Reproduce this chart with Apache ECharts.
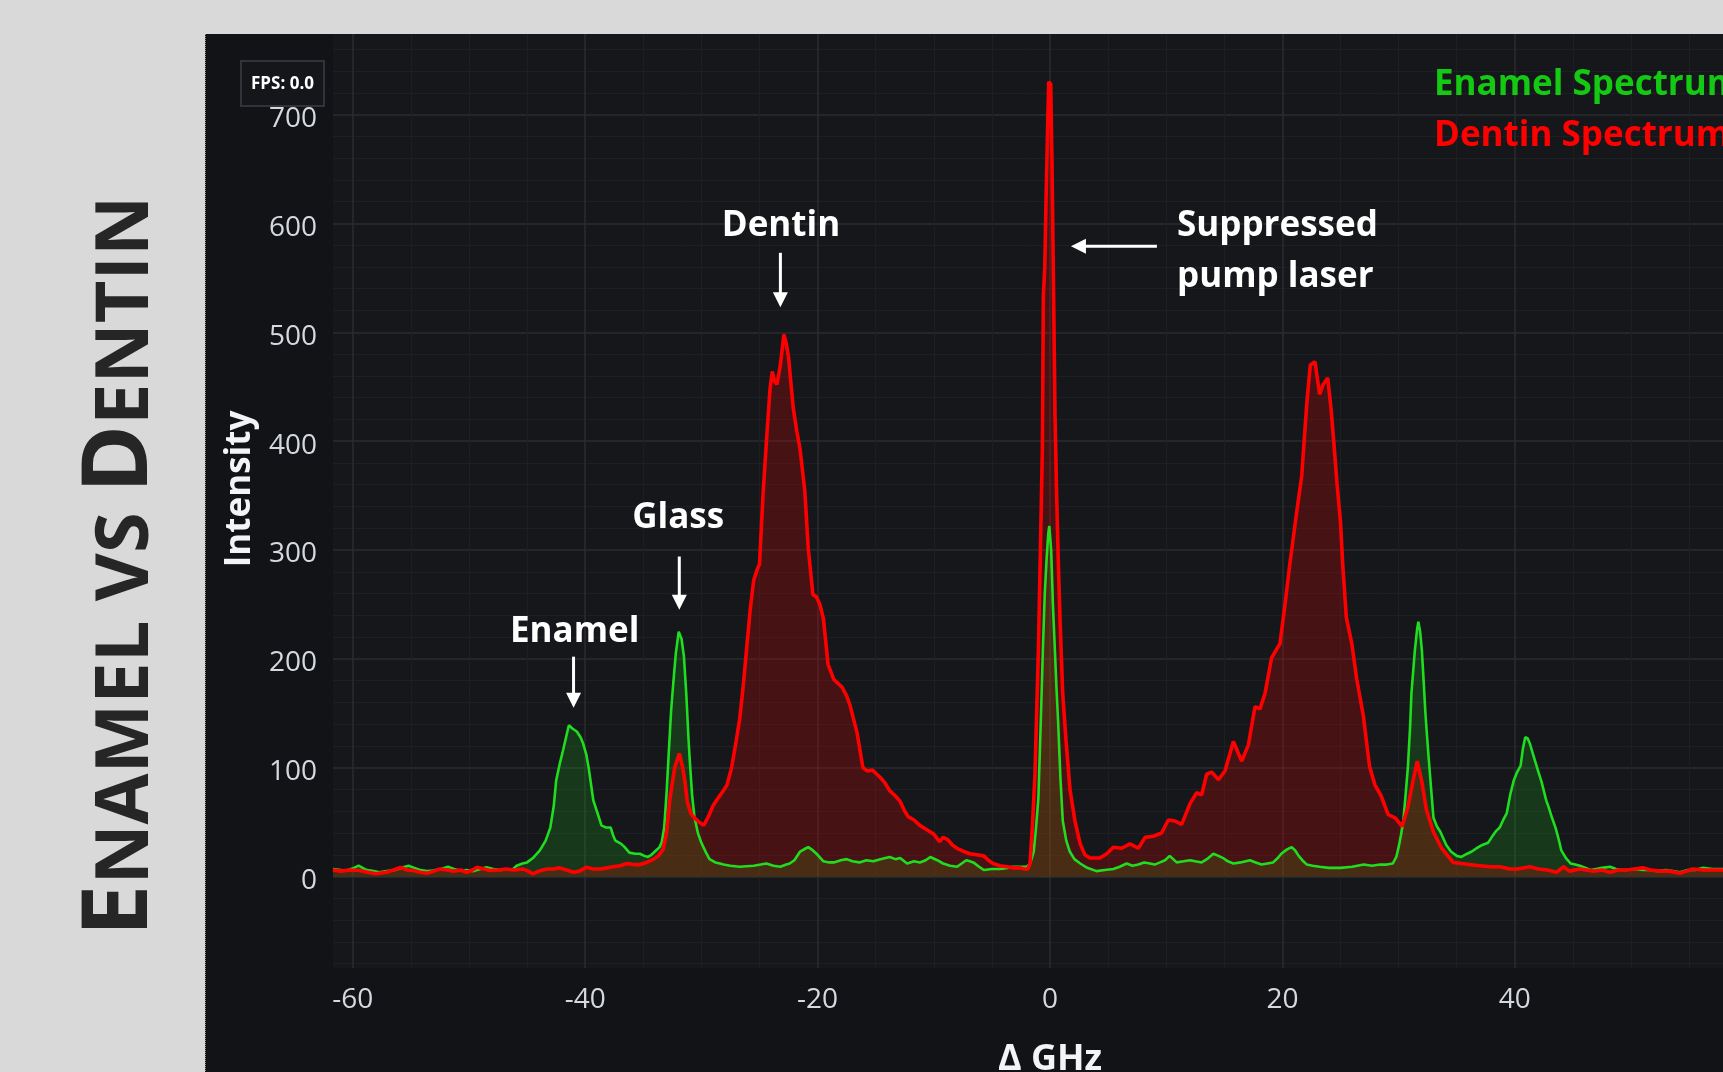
<!DOCTYPE html>
<html>
<head>
<meta charset="utf-8">
<title>Enamel vs Dentin</title>
<script src="https://cdn.jsdelivr.net/npm/echarts@6/dist/echarts.min.js"></script>
<style>
  html, body { margin: 0; padding: 0; background: #d9d9d9; }
  #chart { width: 1723px; height: 1072px; }
</style>
</head>
<body>
<div id="chart"></div>
<script>
// Brillouin spectra: frequency shift (GHz) and measured intensity
const enamelGhz = [
  -61.7, -61.0, -60.5, -59.9, -59.5, -58.8, -58.2, -57.7, -57.1, -56.5, -55.8, -55.2, -54.7, -54.2, -53.6, -53.1,
  -52.4, -51.8, -51.3, -50.8, -50.2, -49.6, -49.0, -48.5, -47.9, -47.3, -46.7, -46.2, -45.9, -45.4, -45.0, -44.5,
  -43.9, -43.4, -43.0, -42.7, -42.5, -42.2, -41.9, -41.6, -41.4, -41.1, -40.7, -40.4, -40.2, -39.9, -39.7, -39.5,
  -39.3, -38.9, -38.6, -38.2, -37.8, -37.6, -37.4, -36.9, -36.6, -36.2, -35.7, -35.3, -34.9, -34.6, -34.3, -34.0,
  -33.6, -33.4, -33.2, -33.0, -32.8, -32.6, -32.4, -32.2, -31.95, -31.7, -31.5, -31.3, -31.1, -31.0, -30.8, -30.6,
  -30.3, -30.0, -29.6, -29.3, -28.8, -28.4, -28.1, -27.5, -26.7, -26.1, -25.5, -24.9, -24.4, -23.8, -23.2, -22.7,
  -22.4, -22.0, -21.5, -21.0, -20.8, -20.4, -20.0, -19.5, -19.0, -18.6, -18.0, -17.5, -17.0, -16.4, -15.8, -15.2,
  -14.6, -13.8, -13.3, -12.9, -12.3, -11.7, -11.2, -10.7, -10.3, -9.7, -9.2, -8.6, -8.0, -7.6, -7.2, -6.9,
  -6.6, -6.1, -5.7, -5.0, -4.3, -3.6, -3.2, -2.6, -2.0, -1.7, -1.4, -1.2, -1.0, -0.8, -0.6, -0.45,
  -0.3, -0.15, -0.06, 0.1, 0.25, 0.4, 0.55, 0.7, 0.9, 1.1, 1.4, 1.7, 2.1, 2.6, 3.2, 4.0,
  4.7, 5.45, 6.0, 6.6, 7.1, 7.6, 8.1, 8.6, 9.0, 9.47, 9.9, 10.3, 10.6, 10.9, 11.5, 12.05,
  12.5, 13.05, 13.5, 14.06, 14.5, 14.9, 15.3, 15.78, 16.4, 17.2, 17.7, 18.2, 18.7, 19.2, 19.6, 19.9,
  20.4, 20.8, 21.1, 21.4, 21.8, 22.1, 22.6, 23.2, 24.0, 25.0, 26.0, 27.0, 27.7, 28.4, 29.0, 29.5,
  29.8, 30.0, 30.2, 30.4, 30.6, 30.8, 31.0, 31.1, 31.3, 31.4, 31.6, 31.7, 31.85, 32.0, 32.15, 32.3,
  32.45, 32.6, 32.8, 33.0, 33.3, 33.6, 34.1, 34.5, 35.0, 35.4, 35.9, 36.3, 36.7, 37.2, 37.7, 38.0,
  38.4, 38.7, 39.0, 39.3, 39.6, 39.9, 40.2, 40.5, 40.7, 40.9, 41.1, 41.3, 41.6, 42.0, 42.3, 42.7,
  42.9, 43.2, 43.5, 43.8, 44.0, 44.4, 44.8, 45.2, 45.6, 46.1, 46.5, 47.0, 47.5, 48.2, 48.7, 49.2,
  49.6, 50.3, 51.0, 51.6, 52.3, 53.0, 53.6, 54.2, 54.9, 55.5, 56.2, 57.0, 57.9, 58.8, 59.8, 61.0, 61.7
];
const enamelIntensity = [
  7, 6, 5.5, 8, 10, 6, 5, 4, 5, 5.5, 8, 10, 8, 6, 5, 5.5,
  7, 9, 7, 5.5, 6, 5, 7, 8.5, 7, 6, 6.5, 7, 10, 12, 13, 17,
  24, 33, 45, 65, 88, 103, 116, 130, 139, 136, 133, 128, 123, 112, 100, 85,
  70, 57, 47, 45, 45, 38, 33, 30, 27, 22, 21, 21, 19, 18, 20, 23,
  27, 32, 45, 76, 115, 153, 180, 205, 225, 218, 202, 168, 125, 107, 75, 55,
  40, 31, 22, 16, 13, 12, 11, 10, 9, 9.5, 10, 11, 12, 10, 9, 11,
  12, 15, 23, 26, 27, 24, 20, 14, 13, 13, 15, 16, 14, 13, 15, 14,
  16, 18, 16, 17, 12, 14, 13, 15, 18, 15, 12, 10, 9, 12, 15, 14,
  13, 9, 6, 7, 7, 8, 9, 9, 9, 12, 23, 45, 72, 140, 213, 260,
  290, 315, 322, 300, 250, 213, 175, 142, 90, 51, 33, 23, 16, 12, 8, 5,
  6, 7, 9, 12, 10, 11, 13, 12, 11, 13, 15, 19, 16, 13, 14, 15,
  14, 13, 16, 21, 19, 17, 14, 12, 13, 15, 13, 11, 12, 13, 17, 21,
  25, 27, 24, 19, 14, 11, 10, 9, 8, 8, 9, 11, 10, 11, 11, 12,
  18, 27, 38, 51, 75, 101, 140, 168, 195, 208, 228, 234, 225, 208, 180, 151,
  128, 107, 80, 54, 46, 41, 29, 23, 19, 18, 21, 23, 26, 29, 31, 36,
  42, 45, 52, 58, 75, 88, 96, 102, 118, 128, 127, 122, 111, 97, 87, 70,
  64, 54, 45, 33, 24, 17, 12, 11, 10, 8, 6, 7, 8, 9, 7, 6,
  6, 7, 6, 6, 5, 6, 5, 4, 6, 6, 8, 7, 7, 6, 6, 7, 6
];

const dentinGhz = [
  -61.7, -61.0, -60.3, -59.4, -58.7, -58.0, -57.1, -56.5, -55.9, -55.3, -54.8, -54.2, -53.6, -53.0, -52.5, -51.9,
  -51.3, -50.7, -50.2, -49.7, -49.3, -48.7, -48.2, -47.5, -46.8, -46.1, -45.4, -44.9, -44.5, -44.0, -43.3, -42.7,
  -42.2, -41.6, -41.0, -40.5, -39.9, -39.3, -38.7, -38.1, -37.6, -37.0, -36.4, -35.8, -35.3, -34.7, -34.1, -33.7,
  -33.3, -33.0, -32.7, -32.3, -31.9, -31.6, -31.4, -31.2, -30.9, -30.7, -30.2, -29.8, -29.4, -29.0, -28.5, -28.1,
  -27.8, -27.4, -27.0, -26.7, -26.4, -26.1, -25.8, -25.5, -25.2, -25.0, -24.7, -24.4, -24.1, -23.9, -23.7, -23.5,
  -23.2, -22.9, -22.7, -22.5, -22.1, -21.8, -21.5, -21.1, -20.8, -20.4, -20.1, -19.8, -19.5, -19.1, -18.6, -17.9,
  -17.5, -17.2, -16.6, -16.1, -15.7, -15.3, -14.9, -14.6, -14.2, -13.8, -13.3, -12.9, -12.5, -12.2, -11.7, -11.2,
  -10.6, -10.0, -9.5, -9.2, -8.8, -8.4, -8.0, -7.4, -6.9, -6.3, -5.7, -5.3, -4.9, -4.3, -3.7, -3.1,
  -2.6, -2.2, -1.9, -1.72, -1.49, -1.29, -1.0, -0.86, -0.66, -0.57, -0.45, -0.34, -0.2, -0.11, 0.06, 0.17,
  0.29, 0.43, 0.57, 0.72, 0.86, 1.09, 1.38, 1.72, 2.15, 2.6, 3.0, 3.44, 4.3, 4.88, 5.45, 6.17,
  6.88, 7.6, 8.18, 8.89, 9.6, 10.18, 10.76, 11.33, 12.05, 12.62, 13.05, 13.48, 13.91, 14.49, 15.06, 15.78,
  16.5, 17.07, 17.64, 18.07, 18.5, 19.07, 19.79, 20.2, 20.65, 21.23, 21.66, 22.1, 22.4, 22.8, 23.2, 23.5,
  23.9, 24.2, 24.4, 24.7, 25.0, 25.2, 25.5, 25.97, 26.4, 26.96, 27.5, 27.97, 28.5, 29.1, 29.7, 30.3,
  30.8, 31.3, 31.6, 32.0, 32.4, 33.0, 33.7, 34.7, 35.4, 36.1, 37.0, 37.9, 38.7, 39.6, 40.2, 41.3,
  42.0, 42.8, 43.6, 44.2, 44.7, 45.6, 46.8, 47.5, 48.2, 48.9, 49.6, 50.3, 51.0, 51.7, 52.5, 53.3,
  54.2, 54.8, 55.3, 56.2, 57.1, 58.0, 59.0, 60.0, 61.7
];
const dentinIntensity = [
  6, 5, 6, 5.5, 4, 2.5, 4, 6, 8.5, 6, 5.5, 4, 3, 5, 7, 6,
  5, 6, 4, 6, 8.5, 7, 5.5, 6, 7, 6, 7, 5, 2.5, 5, 7, 7,
  8, 6, 4, 5, 8.5, 7, 7, 8, 9, 10, 12, 11, 11, 13, 16, 19,
  25, 40, 72, 100, 113, 100, 86, 68, 58, 55, 50, 47, 55, 65, 73, 79,
  84, 100, 125, 145, 175, 210, 245, 272, 282, 287, 350, 400, 447, 464, 455, 452,
  470, 498, 490, 477, 431, 410, 392, 354, 301, 259, 257, 250, 237, 195, 181, 174,
  166, 157, 132, 100, 97, 98, 94, 91, 86, 79, 74, 69, 60, 55, 52, 47,
  43, 39, 32, 36, 34, 29, 26, 23, 21, 20, 19, 15, 12, 10, 9, 8,
  8, 7, 7, 12, 51, 95, 208, 282, 391, 534, 560, 622, 690, 730, 728, 657,
  553, 425, 351, 287, 238, 169, 125, 80, 51, 30, 20, 17, 17, 21, 27, 26,
  30, 26, 36, 37, 40, 52, 51, 48, 67, 77, 75, 94, 96, 89, 97, 124,
  106, 121, 156, 154, 168, 201, 214, 248, 288, 335, 368, 435, 470, 473, 443, 452,
  458, 428, 402, 361, 325, 285, 238, 214, 181, 148, 101, 84, 74, 57, 54, 46,
  64, 91, 106, 87, 61, 41, 26, 13, 12, 11, 10, 9, 9, 7, 7, 9,
  7, 6, 4, 9, 5, 7, 5, 6, 4, 6, 6, 7, 8, 6, 5, 5,
  3, 5, 7, 6, 6, 6, 5, 6, 5
];

const seriesNames = ['Enamel Spectrum', 'Dentin Spectrum'];
const seriesColors = ['#20dd20', '#ff0000'];
const legendColors = ['#14c814', '#ff0000'];
const areaColors = ['rgba(30,210,30,0.26)', 'rgba(255,0,0,0.30)'];
const xTitle = 'Δ GHz';
const yTitle = 'Intensity';

// Peak callouts, anchored in data coordinates (GHz, intensity)
const callouts = [
  { text: 'Enamel', at: [-40.9, 225], from: [-41.0, 202], to: [-41.0, 155] },
  { text: 'Glass', at: [-32.0, 329], from: [-31.9, 294], to: [-31.9, 245] },
  { text: 'Dentin', at: [-23.15, 598], from: [-23.2, 573], to: [-23.2, 523] },
  { text: 'Suppressed\npump laser', at: [10.93, 574], from: [9.2, 579], to: [1.8, 579], align: 'left' }
];

const FONT = '"Open Sans", "Noto Sans", sans-serif';

const zip = (xs, ys) => xs.map((x, i) => [x, ys[i]]);

const chart = echarts.init(document.getElementById('chart'), null, { renderer: 'canvas' });

const option = {
  animation: false,
  backgroundColor: '#121316',
  textStyle: { fontFamily: FONT },
  grid: {
    left: 333, right: -44, top: 34, bottom: 104,
    outerBoundsMode: 'none',
    containLabel: false,
    show: true, backgroundColor: '#16171a', borderWidth: 0
  },
  legend: {
    orient: 'vertical',
    left: 1424, top: 60,
    itemWidth: 0, itemHeight: 0, itemGap: 11,
    selectedMode: false,
    textStyle: { fontSize: 35, fontWeight: 'bold', fontFamily: FONT, lineHeight: 40 },
    data: seriesNames.map((n, i) => ({ name: n, icon: 'rect', textStyle: { color: legendColors[i] } }))
  },
  xAxis: {
    type: 'value',
    min: -61.7, max: 61.7,
    splitNumber: 6,
    name: xTitle,
    nameLocation: 'middle',
    nameGap: 74,
    nameTextStyle: { color: '#f2f4f7', fontSize: 36, fontWeight: 'bold', fontFamily: FONT },
    axisLine: { show: false },
    axisTick: { show: false },
    axisLabel: {
      color: '#d5d9df', fontSize: 28, fontFamily: FONT, margin: 18,
      showMinLabel: false, showMaxLabel: false
    },
    splitLine: { show: true, showMinLine: false, showMaxLine: false, lineStyle: { color: '#2a2c31', width: 1.5 } },
    minorTick: { show: false, splitNumber: 4 },
    minorSplitLine: { show: true, lineStyle: { color: '#1d1f23', width: 1 } }
  },
  yAxis: {
    type: 'value',
    min: -84, max: 774,
    splitNumber: 8,
    name: yTitle,
    nameLocation: 'middle',
    nameRotate: 90,
    nameGap: 75,
    nameTextStyle: { color: '#f2f4f7', fontSize: 35, fontWeight: 'bold', fontFamily: FONT, padding: [0, 0, 0, 24] },
    axisLine: { show: false },
    axisTick: { show: true, length: 10, lineStyle: { color: '#2a2c31', width: 1.5 } },
    axisLabel: {
      margin: 16,
      formatter: '{v|{value}}',
      rich: { v: { color: '#d5d9df', fontSize: 28, fontFamily: FONT, padding: [9, 0, 0, 0] } },
      showMinLabel: false, showMaxLabel: false
    },
    splitLine: { show: true, showMinLine: false, showMaxLine: false, lineStyle: { color: '#2a2c31', width: 1.5 } },
    minorTick: { show: false, splitNumber: 5 },
    minorSplitLine: { show: true, lineStyle: { color: '#1d1f23', width: 1 } }
  },
  series: [
    {
      name: seriesNames[0], type: 'line', data: zip(enamelGhz, enamelIntensity),
      showSymbol: false, symbol: 'none',
      lineStyle: { color: seriesColors[0], width: 2.6 },
      itemStyle: { color: seriesColors[0] },
      areaStyle: { color: areaColors[0], origin: 0 }
    },
    {
      name: seriesNames[1], type: 'line', data: zip(dentinGhz, dentinIntensity),
      showSymbol: false, symbol: 'none',
      lineStyle: { color: seriesColors[1], width: 3.6 },
      itemStyle: { color: seriesColors[1] },
      areaStyle: { color: areaColors[1], origin: 0 }
    }
  ]
};

chart.setOption(option);

// Frame, title and callouts drawn on top of the plotted spectra
const toPx = p => chart.convertToPixel({ gridIndex: 0 }, p);

function arrowShapes(fromData, toData) {
  const a = toPx(fromData), b = toPx(toData);
  const dx = b[0] - a[0], dy = b[1] - a[1];
  const len = Math.hypot(dx, dy);
  const ux = dx / len, uy = dy / len;
  const head = 15, half = 7.5;
  const bx = b[0] - ux * head, by = b[1] - uy * head;
  return [
    { type: 'line', z: 50, shape: { x1: a[0], y1: a[1], x2: bx + ux, y2: by + uy },
      style: { stroke: '#ffffff', lineWidth: 3 } },
    { type: 'polygon', z: 50, shape: { points: [[b[0], b[1]], [bx - uy * half, by + ux * half], [bx + uy * half, by - ux * half]] },
      style: { fill: '#ffffff' } }
  ];
}

const elements = [
  { type: 'rect', z: 40, shape: { x: 0, y: 0, width: 1723, height: 34 }, style: { fill: '#d9d9d9' } },
  { type: 'rect', z: 40, shape: { x: 0, y: 0, width: 205, height: 1072 }, style: { fill: '#d9d9d9' } },
  { type: 'line', z: 41, shape: { x1: 205.5, y1: 34, x2: 205.5, y2: 1072 },
    style: { stroke: '#8a8a8a', lineWidth: 1, lineDash: [1, 1] } },
  {
    type: 'text', z: 41, x: 121, y: 566, rotation: Math.PI / 2,
    style: {
      text: '{big|E}{small|NAMEL VS }{big|D}{small|ENTIN}',
      align: 'center', verticalAlign: 'middle',
      fill: '#262626',
      rich: {
        big: { fontSize: 92, fontWeight: 'bold', fontFamily: FONT, fill: '#262626', verticalAlign: 'bottom' },
        small: { fontSize: 74, fontWeight: 'bold', fontFamily: FONT, fill: '#262626', verticalAlign: 'bottom', padding: [0, 0, 3, 0] }
      }
    }
  },
  { type: 'rect', z: 45, shape: { x: 241, y: 61, width: 83, height: 45 },
    style: { fill: '#15161a', stroke: '#30333a', lineWidth: 2 } },
  { type: 'text', z: 46, x: 282.5, y: 84,
    style: { text: 'FPS: 0.0', fill: '#ffffff', fontSize: 17, fontWeight: 'bold', fontFamily: FONT, align: 'center', verticalAlign: 'middle' } }
];

callouts.forEach(c => {
  const p = toPx(c.at);
  elements.push({
    type: 'text', z: 50, x: p[0], y: p[1],
    style: {
      text: c.text, fill: '#ffffff', fontSize: 35, fontWeight: 'bold', fontFamily: FONT,
      align: c.align || 'center', verticalAlign: 'middle', lineHeight: 51
    }
  });
  elements.push(...arrowShapes(c.from, c.to));
});

chart.setOption({ graphic: { elements: elements } });
</script>
</body>
</html>
